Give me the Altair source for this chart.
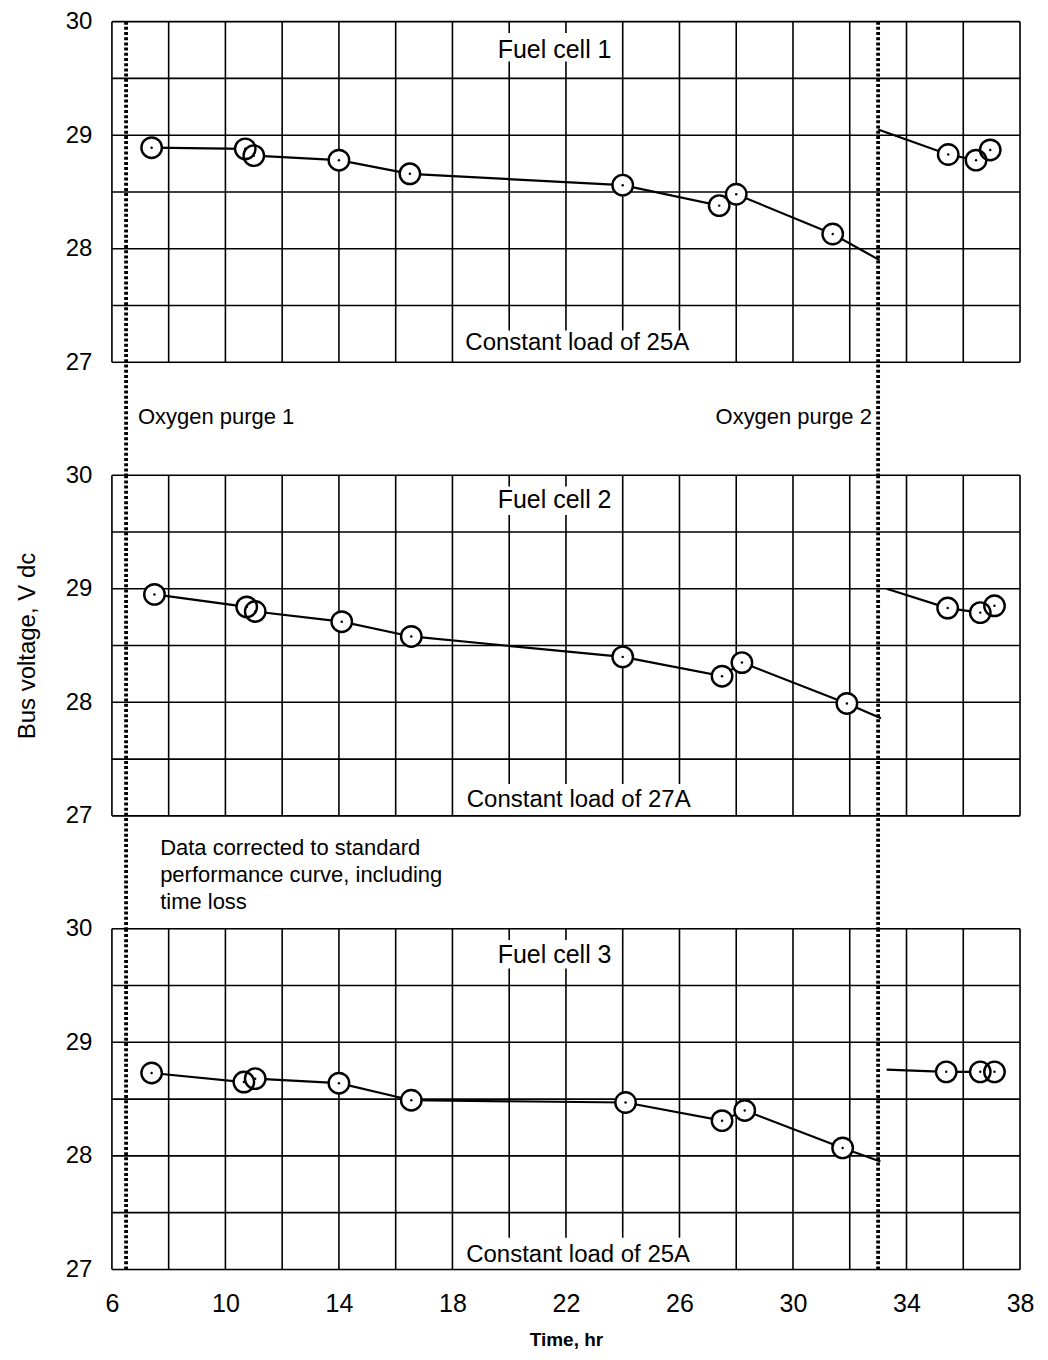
import altair as alt
import pandas as pd

FONT = "Liberation Sans"

# ---------------- data ----------------
panel_titles = ["Fuel cell 1", "Fuel cell 2", "Fuel cell 3"]
load_labels = ["Constant load of 25A", "Constant load of 27A", "Constant load of 25A"]
title_pos_t = [21.6, 21.6, 21.6]
title_pos_v = [29.75, 29.78, 29.77]
load_pos_t = [22.4, 22.45, 22.43]
load_pos_v = [27.17, 27.14, 27.13]

# measured points (time, hr / bus voltage, V dc)
fc1_t = [7.4, 10.7, 11.0, 14.0, 16.5, 24.0, 27.4, 28.0, 31.4, 35.47, 36.45, 36.95]
fc1_v = [28.89, 28.88, 28.82, 28.78, 28.66, 28.56, 28.38, 28.48, 28.13, 28.83, 28.78, 28.87]
fc2_t = [7.5, 10.75, 11.05, 14.1, 16.55, 24.0, 27.5, 28.2, 31.9, 35.45, 36.6, 37.1]
fc2_v = [28.95, 28.84, 28.80, 28.71, 28.58, 28.40, 28.23, 28.35, 27.99, 28.83, 28.79, 28.85]
fc3_t = [7.4, 10.65, 11.05, 14.0, 16.55, 24.1, 27.5, 28.3, 31.75, 35.4, 36.6, 37.1]
fc3_v = [28.73, 28.65, 28.68, 28.64, 28.49, 28.47, 28.31, 28.40, 28.07, 28.74, 28.74, 28.74]

# performance curves before oxygen purge 2
fc1_pre_t = [7.4, 10.7, 11.0, 14.0, 16.5, 24.0, 27.4, 28.0, 31.4, 33.05]
fc1_pre_v = [28.89, 28.88, 28.82, 28.78, 28.66, 28.56, 28.38, 28.48, 28.13, 27.90]
fc2_pre_t = [7.5, 10.75, 11.05, 14.1, 16.55, 24.0, 27.5, 28.2, 31.9, 33.1]
fc2_pre_v = [28.95, 28.84, 28.80, 28.71, 28.58, 28.40, 28.23, 28.35, 27.99, 27.86]
fc3_pre_t = [7.4, 10.65, 11.05, 14.0, 16.55, 24.1, 27.5, 28.3, 31.75, 33.08]
fc3_pre_v = [28.73, 28.65, 28.68, 28.64, 28.49, 28.47, 28.31, 28.40, 28.07, 27.95]
# curves after oxygen purge 2
fc1_post_t = [33.0, 35.47, 36.45]
fc1_post_v = [29.05, 28.83, 28.78]
fc2_post_t = [33.3, 35.45, 36.6]
fc2_post_v = [29.00, 28.83, 28.79]
fc3_post_t = [33.3, 35.4, 36.6]
fc3_post_v = [28.76, 28.74, 28.74]

purge_t = [6.5, 33.0]
purge_low = [26.0, 26.0, 27.0]   # lower end of dotted line per panel

purge_labels = ["Oxygen purge 1", "Oxygen purge 2"]
purge_label_t = [6.92, 32.78]
purge_label_v = [26.52, 26.52]

note_lines = ["Data corrected to standard", "performance curve, including", "time loss"]
note_t = 7.7
note_v = [26.72, 26.48, 26.24]

x_label_values = [6, 10, 14, 18, 22, 26, 30, 34, 38]
y_label_values = [27, 28, 29, 30]

points_t = [fc1_t, fc2_t, fc3_t]
points_v = [fc1_v, fc2_v, fc3_v]
pre_t = [fc1_pre_t, fc2_pre_t, fc3_pre_t]
pre_v = [fc1_pre_v, fc2_pre_v, fc3_pre_v]
post_t = [fc1_post_t, fc2_post_t, fc3_post_t]
post_v = [fc1_post_v, fc2_post_v, fc3_post_v]

# ---------------- grid segments (chart paper) ----------------
grid_rows = []
for k in range(0, 17):
    gx = 6 + 2 * k
    if gx in (20, 22):
        grid_rows.append({"t": gx, "t2": gx, "v": 30.0, "v2": 29.9})
        grid_rows.append({"t": gx, "t2": gx, "v": 29.65, "v2": 27.28})
    elif gx in (24, 26):
        grid_rows.append({"t": gx, "t2": gx, "v": 30.0, "v2": 27.28})
    else:
        grid_rows.append({"t": gx, "t2": gx, "v": 30.0, "v2": 27.0})
for k in range(0, 7):
    gy = 27 + 0.5 * k
    grid_rows.append({"t": 6, "t2": 38, "v": gy, "v2": gy})
grid_df = pd.DataFrame(grid_rows)

PLOT_W = 909
PLOT_H = 341


def panel(i):
    x_scale = alt.Scale(domain=[6, 38], nice=False, zero=False)
    y_scale = alt.Scale(domain=[27, 30], nice=False, zero=False)
    if i == 2:
        x_axis = alt.Axis(values=x_label_values, title="Time, hr", ticks=False, domain=False,
                          grid=False, labelFontSize=25, labelFont=FONT, labelColor="black",
                          labelPadding=22, titleFont=FONT, titleFontSize=19,
                          titleFontWeight="bold", titleColor="black", titlePadding=14,
                          labelFlush=False)
    else:
        x_axis = None
    y_axis = alt.Axis(values=y_label_values, title=("Bus voltage, V dc" if i == 1 else ""),
                      ticks=False, domain=False, grid=False, labelFontSize=24,
                      labelFont=FONT, labelColor="black", labelPadding=20, labelFlush=False,
                      titleFont=FONT, titleFontSize=24, titleFontWeight="normal",
                      titleColor="black", titlePadding=26, format="d")
    X = alt.X("t:Q", scale=x_scale, axis=x_axis)
    Y = alt.Y("v:Q", scale=y_scale, axis=y_axis)

    grid = alt.Chart(grid_df).mark_rule(color="black", strokeWidth=1.6).encode(
        x=X, x2="t2:Q", y=Y, y2="v2:Q")

    purge_df = pd.DataFrame({"t": purge_t, "v": [30.0, 30.0], "v2": [purge_low[i]] * 2})
    purge = alt.Chart(purge_df).mark_rule(color="black", strokeWidth=3.8,
                                          strokeDash=[3, 2.2]).encode(
        x=X, y=Y, y2="v2:Q")

    pre_df = pd.DataFrame({"t": pre_t[i], "v": pre_v[i], "o": list(range(len(pre_t[i])))})
    post_df = pd.DataFrame({"t": post_t[i], "v": post_v[i], "o": list(range(len(post_t[i])))})
    pre = alt.Chart(pre_df).mark_line(color="black", strokeWidth=2.2).encode(
        x=X, y=Y, order="o:Q")
    post = alt.Chart(post_df).mark_line(color="black", strokeWidth=2.2).encode(
        x=X, y=Y, order="o:Q")

    pts_df = pd.DataFrame({"t": points_t[i], "v": points_v[i]})
    blank = alt.Chart(pts_df).mark_point(shape="circle", size=420, filled=True,
                                         color="white", opacity=1, strokeWidth=0).encode(x=X, y=Y)
    rings = alt.Chart(pts_df).mark_point(shape="circle", size=420, filled=False,
                                         color="black", opacity=1, strokeWidth=2.4).encode(x=X, y=Y)
    dots = alt.Chart(pts_df).mark_point(shape="circle", size=6, filled=True,
                                        color="black", opacity=1).encode(x=X, y=Y)

    lab_df = pd.DataFrame({"t": [title_pos_t[i], load_pos_t[i]],
                           "v": [title_pos_v[i], load_pos_v[i]],
                           "label": [panel_titles[i], load_labels[i]],
                           "fs": [25, 24]})
    labels = alt.Chart(lab_df).mark_text(font=FONT, color="black", baseline="middle",
                                         align="center").encode(
        x=X, y=Y, text="label:N", size=alt.Size("fs:Q", scale=None, legend=None))

    layers = [grid, pre, post, blank, rings, dots, purge, labels]

    if i == 0:
        pl_df = pd.DataFrame({"t": purge_label_t, "v": purge_label_v, "label": purge_labels})
        pl_left = alt.Chart(pl_df.iloc[[0]]).mark_text(font=FONT, fontSize=22, color="black",
                                                       align="left", baseline="middle").encode(
            x=X, y=Y, text="label:N")
        pl_right = alt.Chart(pl_df.iloc[[1]]).mark_text(font=FONT, fontSize=22, color="black",
                                                        align="right", baseline="middle").encode(
            x=X, y=Y, text="label:N")
        layers += [pl_left, pl_right]
    if i == 1:
        note_df = pd.DataFrame({"t": [note_t] * 3, "v": note_v, "label": note_lines})
        note = alt.Chart(note_df).mark_text(font=FONT, fontSize=22, color="black",
                                            align="left", baseline="middle").encode(
            x=X, y=Y, text="label:N")
        layers += [note]

    return alt.layer(*layers).properties(width=PLOT_W, height=PLOT_H)


chart = alt.vconcat(panel(0), panel(1), panel(2), spacing=113, bounds="flush").properties(
    padding={"left": 6, "top": 0, "right": 5, "bottom": 5}
).configure_view(stroke=None).configure(background="white")

chart.save("out.html", embed_options={"renderer": "svg", "actions": False})
